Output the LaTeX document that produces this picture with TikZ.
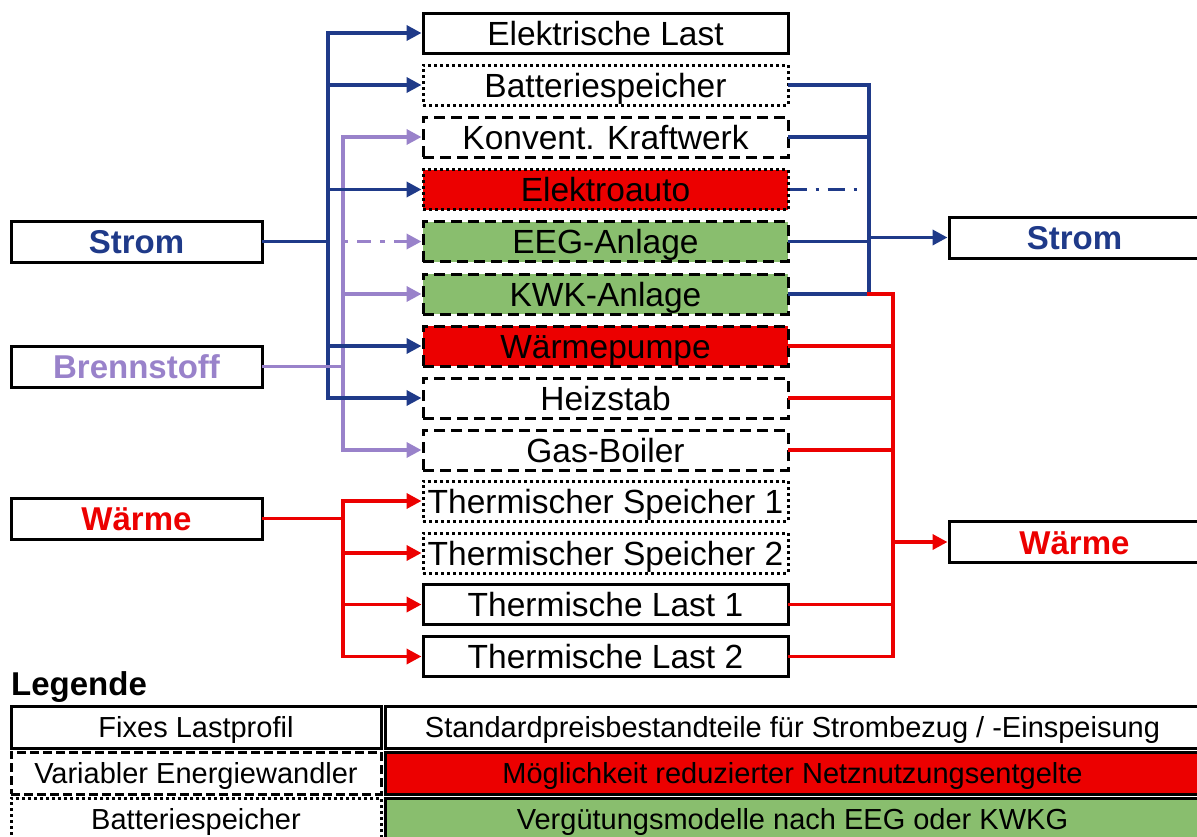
\documentclass[tikz,border=0pt]{standalone}
\usepackage{fontspec}
\setmainfont{Liberation Sans}
\usetikzlibrary{arrows.meta}

\definecolor{sblue}{RGB}{31,58,137}
\definecolor{fpurple}{RGB}{153,130,202}
\definecolor{wred}{RGB}{236,0,0}
\definecolor{egreen}{RGB}{137,190,110}

\tikzset{
  unit/.style={draw=black, line width=3pt, minimum width=365pt, minimum height=40pt,
    inner sep=0pt, font=\fontsize{33.5}{40}\selectfont, text height=24pt, text depth=0pt},
  fixedbox/.style={unit},
  convbox/.style={unit, dash pattern=on 11pt off 6pt},
  storebox/.style={unit, dash pattern=on 3pt off 3pt},
  carrier/.style={draw=black, line width=3pt, minimum width=251pt, minimum height=41pt,
    inner sep=0pt, font=\fontsize{33}{40}\selectfont\bfseries, text height=24pt, text depth=0pt},
  legcell/.style={draw=black, line width=3pt, minimum height=42pt, inner sep=0pt,
    font=\fontsize{29}{34}\selectfont, text height=20.8pt, text depth=0pt},
  flow/.style={line width=3.6pt, line cap=rect},
  arr/.style={line width=3.6pt, -{Triangle[length=15pt,width=15pt]}},
  dashdotA/.style={dash pattern=on 5pt off 9pt on 14pt off 9pt},
  dashdotB/.style={dash pattern=on 17pt off 9pt on 3pt off 9pt},
}

\begin{document}
\begin{tikzpicture}[x=1pt,y=-1pt]
\useasboundingbox (0,0) rectangle (1197,836);

% energy carriers on the input side
\node[carrier, text=sblue]   (strom) at (136.5,241.5) {Strom};
\node[carrier, text=fpurple] (brenn) at (136.5,366.5) {Brennstoff};
\node[carrier, text=wred]    (waerme) at (136.5,518.5) {Wärme};

% energy carriers on the output side
\node[carrier, text=sblue] (stromR)  at (1074.5,237.5) {Strom};
\node[carrier, text=wred]  (waermeR) at (1074.5,542) {Wärme};

% system components
\node[fixedbox]              (last)  at (605.5,33)    {Elektrische Last};
\node[storebox]              (batt)  at (605.5,85)    {Batteriespeicher};
\node[convbox]               (konv)  at (605.5,137)   {Konvent. Kraftwerk};
\node[storebox, fill=wred]   (auto)  at (605.5,189.5) {Elektroauto};
\node[convbox, fill=egreen]  (eeg)   at (605.5,241.5) {EEG-Anlage};
\node[convbox, fill=egreen]  (kwk)   at (605.5,294)   {KWK-Anlage};
\node[convbox, fill=wred]    (wp)    at (605.5,346)   {Wärmepumpe};
\node[convbox]               (heiz)  at (605.5,398)   {Heizstab};
\node[convbox]               (gas)   at (605.5,450)   {Gas-Boiler};
\node[storebox]              (ts1)   at (605.5,501)   {Thermischer Speicher 1};
\node[storebox]              (ts2)   at (605.5,553)   {Thermischer Speicher 2};
\node[fixedbox]              (tl1)   at (605.5,604.5) {Thermische Last 1};
\node[fixedbox]              (tl2)   at (605.5,656.5) {Thermische Last 2};

% bus lines
\coordinate (busE)  at (328,0);
\coordinate (busF)  at (343,0);
\coordinate (busW)  at (343,0);
\coordinate (rbusE) at (869,0);
\coordinate (rbusH) at (893,0);
\coordinate (autoend) at ([xshift=70pt]auto.east);

% fuel distribution
\draw[flow, fpurple] (busF |- konv.west) -- (busF |- gas.west);
\draw[arr, fpurple] (busF |- konv.west) -- (konv.west);
\draw[arr, fpurple, dashdotA] (busF |- eeg.west) -- (eeg.west);
\draw[arr, fpurple] (busF |- kwk.west) -- (kwk.west);
\draw[arr, fpurple] (busF |- gas.west) -- (gas.west);

% electricity distribution
\draw[flow, sblue] (strom.east) -- (busE |- strom.east);
\draw[flow, sblue] (busE |- last.west) -- (busE |- heiz.west);
\draw[arr, sblue] (busE |- last.west) -- (last.west);
\draw[arr, sblue] (busE |- batt.west) -- (batt.west);
\draw[arr, sblue] (busE |- auto.west) -- (auto.west);
\draw[arr, sblue] (busE |- wp.west) -- (wp.west);
\draw[arr, sblue] (busE |- heiz.west) -- (heiz.west);
\draw[flow, fpurple] (brenn.east) -- (busF |- brenn.east);

% heat distribution
\draw[flow, wred] (waerme.east) -- (busW |- waerme.east);
\draw[flow, wred] (busW |- ts1.west) -- (busW |- tl2.west);
\draw[arr, wred] (busW |- ts1.west) -- (ts1.west);
\draw[arr, wred] (busW |- ts2.west) -- (ts2.west);
\draw[arr, wred] (busW |- tl1.west) -- (tl1.west);
\draw[arr, wred] (busW |- tl2.west) -- (tl2.west);

% electricity collection
\draw[flow, sblue] (batt.east) -- (rbusE |- batt.east);
\draw[flow, sblue] (konv.east) -- (rbusE |- konv.east);
\draw[flow, sblue] (eeg.east) -- (rbusE |- eeg.east);
\draw[flow, sblue] (kwk.east) -- (rbusE |- kwk.east);
\draw[flow, sblue] (rbusE |- batt.east) -- (rbusE |- kwk.east);
\draw[line width=3.6pt, sblue, dashdotB] (auto.east) -- (autoend);
\draw[arr, sblue] (rbusE |- stromR.west) -- (stromR.west);

% heat collection
\draw[flow, wred] (rbusE |- kwk.east) -- (rbusH |- kwk.east) -- (rbusH |- tl2.east);
\draw[flow, wred] (wp.east) -- (rbusH |- wp.east);
\draw[flow, wred] (heiz.east) -- (rbusH |- heiz.east);
\draw[flow, wred] (gas.east) -- (rbusH |- gas.east);
\draw[flow, wred] (tl1.east) -- (rbusH |- tl1.east);
\draw[flow, wred] (tl2.east) -- (rbusH |- tl2.east);
\draw[arr, wred] (rbusH |- waermeR.west) -- (waermeR.west);

% legend
\node[anchor=west, inner sep=0pt, font=\fontsize{33}{40}\selectfont\bfseries,
      text height=24pt, text depth=0pt] (legtitle) at (11,683) {Legende};
\node[legcell, minimum width=370pt] (lg1) at (196,727) {Fixes Lastprofil};
\node[legcell, minimum width=370pt, dash pattern=on 9pt off 4pt] (lg2) at (196,773) {Variabler Energiewandler};
\node[legcell, minimum width=370pt, dash pattern=on 3pt off 3pt] (lg3) at (196,819) {Batteriespeicher};
\node[legcell, minimum width=815pt] (lp1) at (792.5,727) {Standardpreisbestandteile für Strombezug / -Einspeisung};
\node[legcell, minimum width=815pt, fill=wred] (lp2) at (792.5,773) {Möglichkeit reduzierter Netznutzungsentgelte};
\node[legcell, minimum width=815pt, fill=egreen] (lp3) at (792.5,819) {Vergütungsmodelle nach EEG oder KWKG};
\end{tikzpicture}
\end{document}
